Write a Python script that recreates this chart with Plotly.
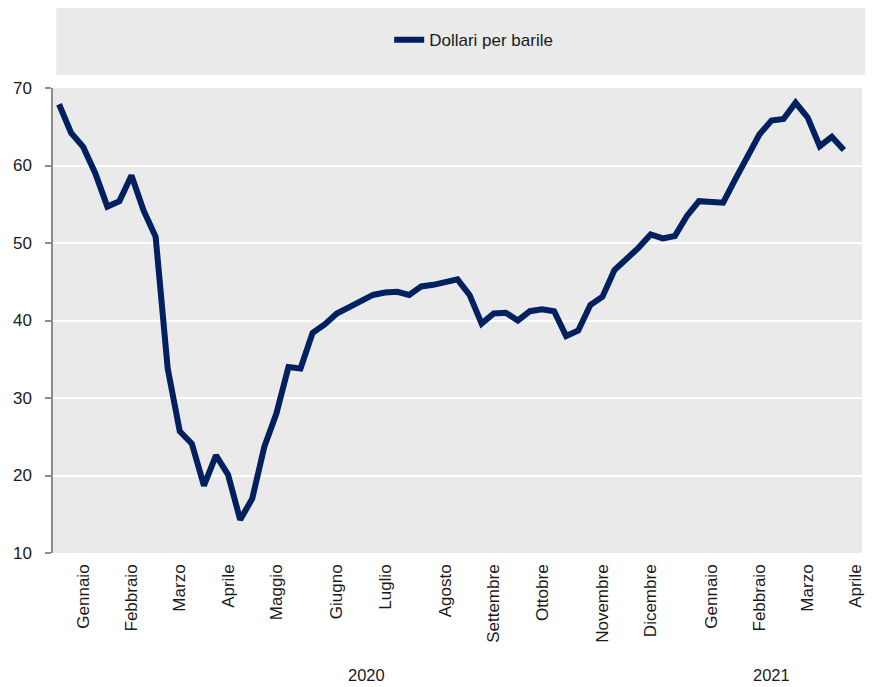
import plotly.graph_objects as go

# Weekly oil price (Brent), dollars per barrel, Jan 2020 - Apr 2021
prices = [
    67.9, 64.2, 62.4, 59.0, 54.7, 55.4, 58.7, 54.2, 50.8, 33.8,
    25.7, 24.1, 18.7, 22.6, 20.1, 14.3, 17.0, 23.7, 28.0, 34.0,
    33.8, 38.4, 39.5, 40.9, 41.7, 42.5, 43.3, 43.6, 43.7, 43.3,
    44.4, 44.6, 44.9, 45.3, 43.3, 39.6, 40.9, 41.0, 40.0, 41.2,
    41.45, 41.2, 38.0, 38.7, 42.0, 43.05, 46.5, 47.9, 49.4, 51.1,
    50.6, 50.9, 53.5, 55.4, 55.3, 55.2, 58.2, 61.05, 64.0, 65.8,
    66.0, 68.1, 66.2, 62.5, 63.7, 62.0,
]
n_weeks = 67  # number of weekly categories on the axis (last one empty)
weeks = list(range(len(prices)))

month_labels = ["Gennaio", "Febbraio", "Marzo", "Aprile", "Maggio", "Giugno",
                "Luglio", "Agosto", "Settembre", "Ottobre", "Novembre",
                "Dicembre", "Gennaio", "Febbraio", "Marzo", "Aprile"]
month_centers = [2, 6, 10, 14, 18, 23, 27, 32, 36, 40, 45, 49, 54, 58, 62, 66]

year_labels = ["2020", "2021"]
year_centers = [25.5, 59]

series_name = "Dollari per barile"

NAVY = "#00205F"
BG = "#EAEAEA"
FONT = "Liberation Sans, Arial, sans-serif"
TXT = "#1a1a1a"

fig = go.Figure()
fig.add_trace(go.Scatter(
    x=weeks, y=prices, mode="lines", name=series_name,
    line=dict(color=NAVY, width=6, shape="linear"),
    showlegend=True,
))

# legend background band
fig.add_shape(type="rect", xref="paper", yref="paper",
              x0=0.004, x1=1.004, y0=1.028, y1=1.176,
              fillcolor=BG, line=dict(width=0), layer="below")

for lbl, cx in zip(year_labels, year_centers):
    fig.add_annotation(x=cx, y=-0.262, xref="x", yref="paper",
                       text=lbl, showarrow=False,
                       font=dict(family=FONT, size=16.5, color=TXT),
                       xanchor="center", yanchor="middle")

fig.update_layout(
    width=876, height=687,
    margin=dict(l=45, r=22, t=80, b=142, autoexpand=False),
    paper_bgcolor="white",
    plot_bgcolor=BG,
    font=dict(family=FONT, color=TXT),
    legend=dict(orientation="h", x=0.52, xanchor="center",
                y=1.103, yanchor="middle",
                bgcolor="rgba(0,0,0,0)",
                font=dict(family=FONT, size=17, color=TXT)),
    xaxis=dict(
        range=[-0.5, n_weeks - 0.5], automargin=False,
        tickmode="array", tickvals=month_centers, ticktext=month_labels,
        tickangle=-90, showgrid=False, zeroline=False, showline=False,
        ticks="", tickfont=dict(family=FONT, size=17, color=TXT),
        ticklabelstandoff=7,
    ),
    yaxis=dict(
        range=[10, 70], automargin=False,
        tickmode="array", tickvals=[10, 20, 30, 40, 50, 60, 70],
        showgrid=True, gridcolor="white", gridwidth=2,
        zeroline=False, showline=True, linecolor="#8c8c8c", linewidth=1.5,
        ticks="outside", ticklen=6, tickcolor="#8c8c8c", tickwidth=1.5,
        tickfont=dict(family=FONT, size=17, color=TXT),
        ticklabelstandoff=10,
    ),
)

fig.write_html("out.html")
